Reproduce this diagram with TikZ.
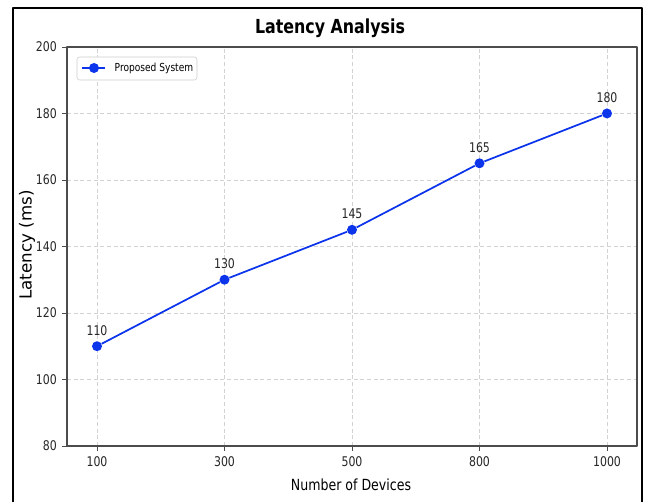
\documentclass[tikz,border=0pt]{standalone}
\usepackage{fontspec}
\setmainfont{DejaVu Sans}[FakeStretch=0.82]
\newfontfamily\uprightlbl{DejaVu Sans}
\usetikzlibrary{positioning}
\definecolor{lineblue}{RGB}{12,52,235}
\tikzset{
  gridline/.style={gray!35, line width=0.5pt, dash pattern=on 3pt off 2pt},
  datadot/.style={circle, fill=lineblue, inner sep=0pt, minimum size=7.5pt},
  ticklbl/.style={font=\fontsize{10}{11}\selectfont, text=black!85},
  axislbl/.style={font=\fontsize{11.5}{13}\selectfont}
}
\begin{document}
\begin{tikzpicture}[x=0.75pt, y=0.75pt, line join=round]
	\useasboundingbox (0,0) rectangle (649,502);
	% outer frame, cut at the bottom
	\begin{scope}
		\clip (0,0) rectangle (649,502);
		\draw[line width=2.2pt] (13,-10) -- (13,494) -- (642,494) -- (642,-10);
	\end{scope}
	\node[font=\bfseries\fontsize{14.5}{16}\selectfont] (title) at (330,474) {Latency Analysis};
	% plot in data coordinates
	\begin{scope}[shift={(97,-210)}, x=95.625pt, y=2.494pt]
		\foreach \i in {0,...,4}
			\draw[gridline] (\i,80) -- (\i,200);
		\foreach \v in {100,120,...,180}
			\draw[gridline] (-0.235,\v) -- (4.235,\v);
		\draw[black!70, line width=0.9pt] (-0.235,80) rectangle (4.235,200);
		\foreach \v in {80,100,...,200}
			\draw[black!70, line width=0.6pt] (-0.235,\v) -- ++(-4pt,0) node[left, ticklbl] (yl\v) {\v};
		\foreach \n [count=\i from 0] in {100,300,500,800,1000}
			\draw[black!70, line width=0.6pt] (\i,80) -- ++(0,-4pt) node[below, ticklbl] (xl\i) {\n};
		\foreach \v [count=\i from 0] in {110,130,145,165,180}{
			\node[datadot] (p\i) at (\i,\v) {};
			\node[ticklbl] (v\i) at ([yshift=12pt]p\i.center) {\v};
		}
		\draw[lineblue, line width=1.3pt] (p0) -- (p1) -- (p2) -- (p3) -- (p4);
	\end{scope}
	\node[axislbl] (xtitle) at (351,17) {Number of Devices};
	\node[font=\uprightlbl\fontsize{12.5}{14}\selectfont, rotate=90] (ytitle) at (27,257) {Latency (ms)};
	% legend
	\draw[gray!40, rounded corners=2pt, fill=white] (77,422) rectangle (197,445);
	\coordinate (la) at (82,434);
	\coordinate (lb) at (105,434);
	\draw[lineblue, line width=1.3pt] (la) -- (lb);
	\node[datadot] (ldot) at (94,434) {};
	\node[anchor=west, font=\fontsize{8.3}{9}\selectfont] (ltext) at (110,434) {Proposed System};
\end{tikzpicture}
\end{document}
